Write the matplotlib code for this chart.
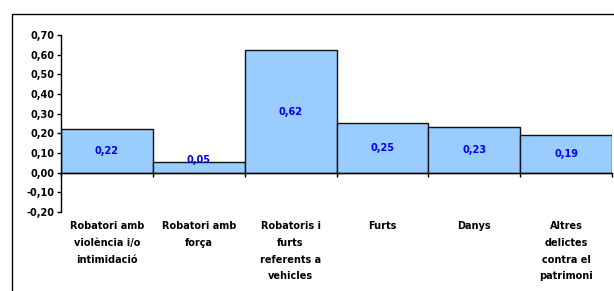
import matplotlib
matplotlib.use("Agg")
import matplotlib.pyplot as plt
from matplotlib.patches import Rectangle
from matplotlib.transforms import blended_transform_factory, offset_copy

categories = ["Robatori amb\nviolència i/o\nintimidació",
              "Robatori amb\nforça",
              "Robatoris i\nfurts\nreferents a\nvehicles",
              "Furts",
              "Danys",
              "Altres\ndelictes\ncontra el\npatrimoni"]
values = [0.224, 0.053, 0.622, 0.253, 0.232, 0.194]
yticks = [-0.20, -0.10, 0.00, 0.10, 0.20, 0.30, 0.40, 0.50, 0.60, 0.70]

plt.rcParams['font.family'] = ['DejaVu Sans']

W, H = 614, 291
fig = plt.figure(figsize=(W / 100, H / 100), dpi=100)
fig.patch.set_facecolor('white')

# outer frame (clipped at right/bottom like reference)
fig.patches.append(Rectangle((12 / W, -0.2), 1.2, 1 - 14 / H + 0.2,
                             transform=fig.transFigure, fill=False,
                             edgecolor='black', linewidth=1.0))

ax = fig.add_axes([61 / W, 1 - 212 / H, (612 - 61) / W, (212 - 35) / H])
x = list(range(len(categories)))
ax.bar(x, values, width=1.0, color='#99CCFF', edgecolor='#111111', linewidth=1.0, zorder=2)

ax.set_xlim(-0.5, len(categories) - 0.5)
ax.set_ylim(-0.20, 0.70)
ax.set_yticks(yticks)
ax.set_yticklabels([f"{v:.2f}".replace('.', ',') for v in yticks],
                   fontsize=7, fontweight='bold')
ax.tick_params(axis='y', direction='out', length=3, width=1, pad=2)

for s in ['top', 'right']:
    ax.spines[s].set_visible(False)
ax.spines['left'].set_linewidth(1.0)
ax.spines['bottom'].set_position(('data', 0))
ax.spines['bottom'].set_linewidth(1.0)
ax.set_xticks([i + 0.5 for i in range(-1, len(categories))])
ax.set_xticklabels([])
ax.tick_params(axis='x', direction='out', length=3, width=1)

for xi, v in zip(x, values):
    ypos = max(v / 2, 0.065)
    ax.text(xi, ypos, f"{v:.2f}".replace('.', ','), ha='center', va='center',
            color='#0000EE', fontsize=7, fontweight='bold', zorder=3)

tr = offset_copy(blended_transform_factory(ax.transData, ax.transAxes),
                 fig=fig, x=0, y=-6.5, units='points')
for xi, c in zip(x, categories):
    ax.text(xi, 0, c, transform=tr, ha='center', va='top', fontsize=7,
            fontweight='bold', linespacing=1.85)

fig.savefig("out.png", dpi=100)
